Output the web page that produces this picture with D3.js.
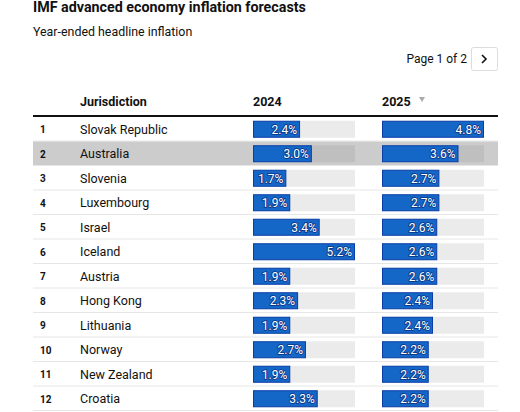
<!DOCTYPE html>
<html><head><meta charset="utf-8">
<script src="https://cdn.jsdelivr.net/npm/d3@7"></script>
<style>
body{margin:0;background:#fff;}
svg{display:block;font-family:Roboto, "Noto Sans", sans-serif;}
</style></head><body>
<svg id="c" width="520" height="412"></svg>
<script>
const jurisdictions = ["Slovak Republic","Australia","Slovenia","Luxembourg","Israel","Iceland","Austria","Hong Kong","Lithuania","Norway","New Zealand","Croatia"];
const ranks = [1,2,3,4,5,6,7,8,9,10,11,12];
const v2024 = [2.4,3.0,1.7,1.9,3.4,5.2,1.9,2.3,1.9,2.7,1.9,3.3];
const v2025 = [4.8,3.6,2.7,2.7,2.6,2.6,2.6,2.4,2.4,2.2,2.2,2.2];
const columns = ["Jurisdiction","2024","2025"];
const title = "IMF advanced economy inflation forecasts";
const subtitle = "Year-ended headline inflation";
const pager = "Page 1 of 2";
const highlighted = 1;

const svg = d3.select("#c");
const L = 33, R = 498;
const y = d3.scaleBand().domain(d3.range(jurisdictions.length)).range([117, 411]);
const x24 = d3.scaleLinear().domain([0, d3.max(v2024)]).range([253, 355]);
const x25 = d3.scaleLinear().domain([0, d3.max(v2025)]).range([382, 484]);
const barH = 17;

svg.append("text").attr("x", L).attr("y", 12).attr("font-size", 14.3).attr("font-weight", 700).attr("fill", "#111").text(title);
svg.append("text").attr("x", L).attr("y", 36).attr("font-size", 12.4).attr("fill", "#111").text(subtitle);
svg.append("text").attr("x", 467).attr("y", 63).attr("font-size", 12).attr("text-anchor", "end").attr("fill", "#111").text(pager);
svg.append("rect").attr("x", 471.5).attr("y", 47.5).attr("width", 26).attr("height", 23).attr("rx", 2).attr("fill", "#fff").attr("stroke", "#dcdcdc");
svg.append("path").attr("d", "M482,55 L486,59 L482,63").attr("fill", "none").attr("stroke", "#111").attr("stroke-width", 1.6);

// header
const hy = 106;
svg.append("text").attr("x", 80).attr("y", hy).attr("font-size", 12.5).attr("font-weight", 700).attr("fill", "#111").text(columns[0]);
svg.append("text").attr("x", x24(0)).attr("y", hy).attr("font-size", 12.5).attr("font-weight", 700).attr("fill", "#111").text(columns[1]);
svg.append("text").attr("x", x25(0)).attr("y", hy).attr("font-size", 12.5).attr("font-weight", 700).attr("fill", "#111").text(columns[2]);
svg.append("path").attr("d", "M419,97 L425,97 L422,102 Z").attr("fill", "#aaa");

// rows
const rows = svg.append("g").selectAll("g").data(jurisdictions).join("g");
rows.filter((d,i)=>i===highlighted).append("rect")
  .attr("x", L).attr("y", ()=>y(highlighted)).attr("width", R-L).attr("height", y.bandwidth()).attr("fill", "#cccccc");
rows.append("line").attr("x1", L).attr("x2", R)
  .attr("y1", (d,i)=>y(i)+y.bandwidth()-0.5).attr("y2", (d,i)=>y(i)+y.bandwidth()-0.5)
  .attr("stroke", "#e6e6e6");
rows.append("text").attr("x", 40).attr("y", (d,i)=>y(i)+y.bandwidth()/2+4).attr("font-size", 10).attr("font-weight", 700).attr("fill", "#111").text((d,i)=>ranks[i]);
rows.append("text").attr("x", 80).attr("y", (d,i)=>y(i)+y.bandwidth()/2+4.5).attr("font-size", 12.5).attr("fill", "#111").text(d=>d);

function barCol(vals, xs){
  const g = svg.append("g");
  vals.forEach((v,i)=>{
    const top = y(i) + (y.bandwidth()-barH)/2;
    g.append("rect").attr("x", xs(0)).attr("y", top).attr("width", xs.range()[1]-xs(0)).attr("height", barH)
      .attr("fill", i===highlighted ? "#bfbfbf" : "#ebebeb");
    g.append("rect").attr("x", xs(0)+0.5).attr("y", top+0.5).attr("width", xs(v)-xs(0)-1).attr("height", barH-1)
      .attr("fill", "#1467c7").attr("stroke", "#0a3ea6");
    g.append("text").attr("x", xs(v)-3).attr("y", top+barH/2+4.3).attr("text-anchor","end")
      .attr("font-size", 12).attr("fill", "#fff").attr("stroke", "#0b3a8f").attr("stroke-width", 1.8)
      .attr("paint-order", "stroke").attr("stroke-linejoin","round").text(v.toFixed(1)+"%");
  });
}
barCol(v2024, x24);
barCol(v2025, x25);

svg.append("line").attr("x1", L).attr("x2", R).attr("y1", 116).attr("y2", 116).attr("stroke", "#111").attr("stroke-width", 2);
</script></body></html>
